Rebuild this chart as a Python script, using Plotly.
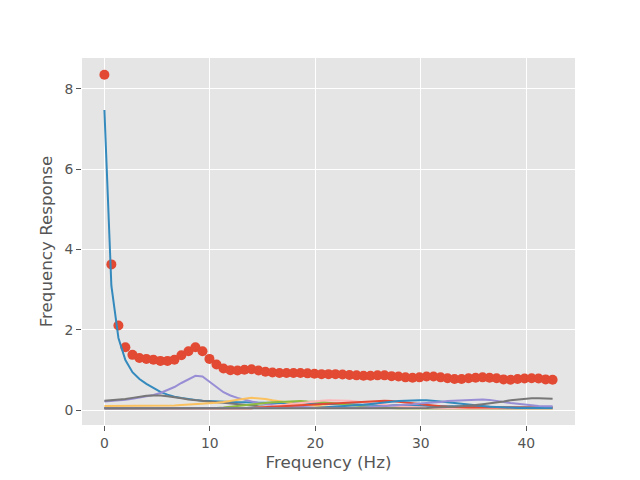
import plotly.graph_objects as go

freqs = [
    0.00, 0.66, 1.33, 1.99, 2.66, 3.32, 3.98, 4.65, 5.31, 5.98,
    6.64, 7.30, 7.97, 8.63, 9.30, 9.96, 10.63, 11.29, 11.95, 12.62,
    13.28, 13.95, 14.61, 15.27, 15.94, 16.60, 17.27, 17.93, 18.59, 19.26,
    19.92, 20.59, 21.25, 21.91, 22.58, 23.24, 23.91, 24.57, 25.23, 25.90,
    26.56, 27.23, 27.89, 28.55, 29.22, 29.88, 30.55, 31.21, 31.88, 32.54,
    33.20, 33.87, 34.53, 35.20, 35.86, 36.52, 37.19, 37.85, 38.52, 39.18,
    39.84, 40.51, 41.17, 41.84, 42.50]

response = [
    8.35, 3.63, 2.11, 1.57, 1.38, 1.30, 1.28, 1.26, 1.23, 1.23,
    1.26, 1.37, 1.47, 1.57, 1.47, 1.28, 1.14, 1.04, 1.00, 0.99,
    1.01, 1.02, 0.99, 0.96, 0.94, 0.93, 0.93, 0.93, 0.93, 0.92,
    0.91, 0.90, 0.90, 0.90, 0.89, 0.88, 0.87, 0.86, 0.86, 0.87,
    0.87, 0.85, 0.84, 0.82, 0.81, 0.82, 0.84, 0.84, 0.82, 0.80,
    0.78, 0.78, 0.80, 0.81, 0.82, 0.81, 0.80, 0.77, 0.76, 0.78,
    0.79, 0.80, 0.79, 0.77, 0.76]

comp_blue1 = [
    7.47, 3.10, 1.80, 1.25, 0.95, 0.78, 0.66, 0.56, 0.46, 0.39,
    0.34, 0.31, 0.28, 0.26, 0.24, 0.23, 0.22, 0.21, 0.21, 0.20,
    0.20, 0.19, 0.19, 0.19, 0.18, 0.18, 0.18, 0.17, 0.17, 0.17,
    0.16, 0.16, 0.16, 0.15, 0.15, 0.15, 0.14, 0.14, 0.14, 0.13,
    0.13, 0.13, 0.12, 0.12, 0.12, 0.11, 0.11, 0.11, 0.10, 0.10,
    0.10, 0.10, 0.09, 0.09, 0.09, 0.09, 0.08, 0.08, 0.08, 0.08,
    0.08, 0.07, 0.07, 0.07, 0.07]

comp_purple1 = [
    0.22, 0.23, 0.24, 0.26, 0.29, 0.32, 0.35, 0.38, 0.43, 0.50,
    0.58, 0.68, 0.78, 0.86, 0.84, 0.72, 0.58, 0.45, 0.37, 0.31,
    0.26, 0.22, 0.18, 0.15, 0.13, 0.11, 0.10, 0.09, 0.08, 0.07,
    0.07, 0.07, 0.06, 0.06, 0.06, 0.06, 0.06, 0.06, 0.06, 0.06,
    0.06, 0.06, 0.06, 0.06, 0.06, 0.06, 0.06, 0.06, 0.06, 0.06,
    0.06, 0.06, 0.06, 0.06, 0.06, 0.06, 0.06, 0.06, 0.06, 0.06,
    0.06, 0.06, 0.06, 0.06, 0.06]

comp_gray1 = [
    0.24, 0.25, 0.26, 0.28, 0.31, 0.34, 0.36, 0.37, 0.37, 0.35,
    0.33, 0.30, 0.27, 0.25, 0.23, 0.22, 0.20, 0.19, 0.17, 0.15,
    0.13, 0.11, 0.10, 0.09, 0.08, 0.08, 0.07, 0.06, 0.06, 0.06,
    0.05, 0.05, 0.05, 0.05, 0.05, 0.05, 0.05, 0.05, 0.05, 0.05,
    0.05, 0.05, 0.05, 0.05, 0.05, 0.05, 0.05, 0.05, 0.05, 0.05,
    0.05, 0.05, 0.05, 0.05, 0.05, 0.05, 0.05, 0.05, 0.05, 0.05,
    0.05, 0.05, 0.05, 0.05, 0.05]

comp_yellow = [
    0.11, 0.11, 0.11, 0.11, 0.11, 0.11, 0.11, 0.11, 0.11, 0.12,
    0.12, 0.13, 0.14, 0.15, 0.16, 0.17, 0.19, 0.21, 0.24, 0.27,
    0.29, 0.31, 0.30, 0.28, 0.25, 0.23, 0.20, 0.17, 0.15, 0.13,
    0.11, 0.10, 0.09, 0.08, 0.07, 0.07, 0.06, 0.06, 0.06, 0.06,
    0.05, 0.05, 0.05, 0.05, 0.05, 0.05, 0.05, 0.05, 0.05, 0.05,
    0.05, 0.05, 0.05, 0.05, 0.05, 0.05, 0.05, 0.05, 0.05, 0.05,
    0.05, 0.05, 0.05, 0.05, 0.05]

comp_green = [
    0.05, 0.05, 0.05, 0.05, 0.05, 0.05, 0.05, 0.05, 0.05, 0.05,
    0.05, 0.05, 0.05, 0.05, 0.05, 0.05, 0.06, 0.07, 0.09, 0.11,
    0.13, 0.15, 0.17, 0.19, 0.20, 0.21, 0.22, 0.23, 0.23, 0.22,
    0.22, 0.21, 0.19, 0.17, 0.15, 0.13, 0.11, 0.10, 0.08, 0.07,
    0.06, 0.05, 0.05, 0.05, 0.05, 0.05, 0.05, 0.05, 0.05, 0.05,
    0.05, 0.05, 0.05, 0.05, 0.05, 0.05, 0.05, 0.05, 0.05, 0.05,
    0.05, 0.05, 0.05, 0.05, 0.05]

comp_pink = [
    0.05, 0.05, 0.05, 0.05, 0.05, 0.05, 0.05, 0.05, 0.05, 0.05,
    0.05, 0.05, 0.05, 0.05, 0.05, 0.05, 0.05, 0.05, 0.05, 0.05,
    0.05, 0.05, 0.07, 0.08, 0.10, 0.12, 0.14, 0.16, 0.18, 0.21,
    0.23, 0.24, 0.25, 0.25, 0.25, 0.24, 0.22, 0.20, 0.17, 0.15,
    0.13, 0.11, 0.10, 0.09, 0.08, 0.07, 0.06, 0.05, 0.05, 0.05,
    0.05, 0.05, 0.05, 0.05, 0.05, 0.05, 0.05, 0.05, 0.05, 0.05,
    0.05, 0.05, 0.05, 0.05, 0.05]

comp_red = [
    0.05, 0.05, 0.05, 0.05, 0.05, 0.05, 0.05, 0.05, 0.05, 0.05,
    0.05, 0.05, 0.05, 0.05, 0.05, 0.05, 0.05, 0.05, 0.05, 0.05,
    0.05, 0.05, 0.07, 0.08, 0.09, 0.10, 0.11, 0.12, 0.13, 0.14,
    0.15, 0.16, 0.17, 0.18, 0.19, 0.20, 0.21, 0.22, 0.23, 0.24,
    0.24, 0.23, 0.21, 0.19, 0.17, 0.15, 0.13, 0.11, 0.10, 0.09,
    0.08, 0.08, 0.07, 0.07, 0.07, 0.07, 0.07, 0.07, 0.07, 0.07,
    0.07, 0.07, 0.07, 0.07, 0.07]

comp_blue2 = [
    0.05, 0.05, 0.05, 0.05, 0.05, 0.05, 0.05, 0.05, 0.05, 0.05,
    0.05, 0.05, 0.05, 0.05, 0.05, 0.05, 0.05, 0.05, 0.05, 0.05,
    0.05, 0.05, 0.05, 0.05, 0.05, 0.05, 0.05, 0.05, 0.05, 0.05,
    0.06, 0.07, 0.08, 0.09, 0.10, 0.11, 0.12, 0.14, 0.16, 0.18,
    0.20, 0.22, 0.23, 0.24, 0.25, 0.25, 0.25, 0.24, 0.22, 0.20,
    0.18, 0.16, 0.14, 0.12, 0.10, 0.09, 0.08, 0.07, 0.07, 0.06,
    0.06, 0.06, 0.06, 0.06, 0.06]

comp_purple2 = [
    0.05, 0.05, 0.05, 0.05, 0.05, 0.05, 0.05, 0.05, 0.05, 0.05,
    0.05, 0.05, 0.05, 0.05, 0.05, 0.05, 0.05, 0.05, 0.05, 0.05,
    0.05, 0.05, 0.05, 0.05, 0.05, 0.05, 0.05, 0.05, 0.05, 0.05,
    0.05, 0.05, 0.05, 0.05, 0.05, 0.05, 0.06, 0.07, 0.08, 0.09,
    0.10, 0.11, 0.12, 0.14, 0.15, 0.17, 0.18, 0.20, 0.21, 0.23,
    0.24, 0.25, 0.26, 0.27, 0.27, 0.26, 0.24, 0.21, 0.18, 0.16,
    0.14, 0.12, 0.11, 0.10, 0.10]

comp_gray2 = [
    0.05, 0.05, 0.05, 0.05, 0.05, 0.05, 0.05, 0.05, 0.05, 0.05,
    0.05, 0.05, 0.05, 0.05, 0.05, 0.05, 0.05, 0.05, 0.05, 0.05,
    0.05, 0.05, 0.05, 0.05, 0.05, 0.05, 0.05, 0.05, 0.05, 0.05,
    0.05, 0.05, 0.05, 0.05, 0.05, 0.05, 0.05, 0.05, 0.05, 0.05,
    0.05, 0.05, 0.05, 0.05, 0.05, 0.05, 0.06, 0.07, 0.07, 0.08,
    0.09, 0.10, 0.11, 0.13, 0.15, 0.17, 0.20, 0.22, 0.25, 0.27,
    0.29, 0.30, 0.30, 0.29, 0.29]

components = [
    (comp_blue1, "#348ABD"),
    (comp_purple1, "#988ED5"),
    (comp_gray1, "#777777"),
    (comp_yellow, "#FBC15E"),
    (comp_green, "#8EBA42"),
    (comp_pink, "#FFB5B8"),
    (comp_red, "#E24A33"),
    (comp_blue2, "#348ABD"),
    (comp_purple2, "#988ED5"),
    (comp_gray2, "#777777"),
]

fig = go.Figure()
fig.add_trace(go.Scatter(
    x=freqs, y=response, mode="markers",
    marker=dict(color="#E24A33", size=10, line=dict(width=0)),
    showlegend=False, hoverinfo="skip"))
for vals, col in components:
    fig.add_trace(go.Scatter(
        x=freqs, y=vals, mode="lines",
        line=dict(color=col, width=2),
        showlegend=False, hoverinfo="skip"))

axis_common = dict(
    showgrid=True, gridcolor="white", gridwidth=1,
    zeroline=False, showline=False,
    ticks="outside", ticklen=5, tickwidth=1, tickcolor="#555555",
    tickfont=dict(family="DejaVu Sans", size=13.9, color="#555555"),
)

fig.update_layout(
    width=640, height=480,
    margin=dict(l=82, r=65, t=58, b=52),
    paper_bgcolor="white", plot_bgcolor="#E5E5E5",
    xaxis=dict(range=[-2.125, 44.625], tickvals=[0, 10, 20, 30, 40],
               title=dict(text="Frequency (Hz)", standoff=6,
                          font=dict(family="DejaVu Sans", size=16.7, color="#555555")),
               **axis_common),
    yaxis=dict(range=[-0.365, 8.765], tickvals=[0, 2, 4, 6, 8],
               title=dict(text="Frequency Response", standoff=7,
                          font=dict(family="DejaVu Sans", size=16.7, color="#555555")),
               **axis_common),
)

fig.write_html("out.html")
